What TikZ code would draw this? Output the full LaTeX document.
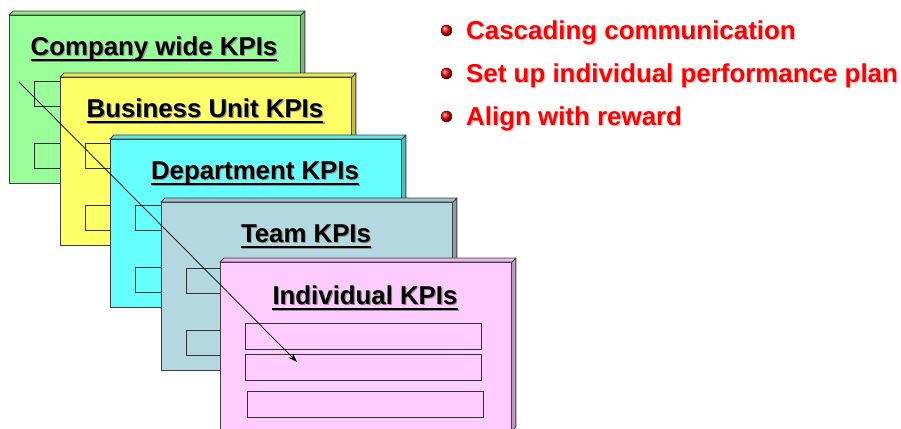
\documentclass[tikz,border=0pt]{standalone}
\usepackage{fontspec}
\setmainfont{Liberation Sans}
\usetikzlibrary{arrows.meta,shadings}
\definecolor{cgreen}{HTML}{99FF99}
\definecolor{cyellow}{HTML}{FFFF66}
\definecolor{ccyan}{HTML}{66FFFF}
\definecolor{cteam}{HTML}{B4D8E0}
\definecolor{cpink}{HTML}{FFCCFF}
\definecolor{cred}{HTML}{FF0000}
\definecolor{cshadow}{HTML}{909090}
\tikzset{
  card/.style={draw=black!75, line width=0.9pt, minimum width=291pt, minimum height=168pt, inner sep=0pt, anchor=north west},
  face/.style={draw=black!75, line width=0.9pt, line join=round},
  slot/.style={draw=black!80, line width=0.9pt, minimum width=236pt, minimum height=25pt, inner sep=0pt, anchor=north west},
  ttl/.style={anchor=base, inner sep=0pt, font=\fontsize{25.8}{30}\selectfont\bfseries},
  blt/.style={anchor=base west, inner sep=0pt, text=cred, font=\fontsize{25.9}{30}\selectfont\bfseries},
  bball/.style={circle, ball color=red!90!black, minimum size=11.5pt, inner sep=0pt},
}
\begin{document}
\begin{tikzpicture}[x=1pt,y=-1pt]
\useasboundingbox (0,0) rectangle (901,428);
\clip (0,0) rectangle (901,428);
\foreach \i/\x/\y/\col/\txt in {1/9/15/cgreen/Company wide KPIs, 2/60/77/cyellow/Business Unit KPIs, 3/110/139/ccyan/Department KPIs, 4/161/202/cteam/Team KPIs}{
  \node[card, fill=\col] (k\i) at (\x,\y) {};
  \fill[\col!75!black] (k\i.north east) -- ++(4,-4) -- ([shift={(4,-4)}]k\i.south east) -- (k\i.south east) -- cycle;
  \draw[face] (k\i.north east) -- ++(4,-4) -- ([shift={(4,-4)}]k\i.south east) -- (k\i.south east);
  \filldraw[face, fill=\col!90!black] (k\i.north west) -- ++(4,-4) -- ([shift={(4,-4)}]k\i.north east) -- (k\i.north east) -- cycle;
  \node[card, fill=\col] (k\i) at (\x,\y) {};
  \node[slot] (r\i a) at (\x+25,\y+66) {};
  \node[slot] (r\i b) at (\x+25,\y+128) {};
  \node[ttl, text=cshadow] (s\i) at (\x+145+1.1,\y+40.5+1.1) {\txt};
  \draw[cshadow, line width=2.4pt] ([yshift=-4.2pt]s\i.base west) -- ([yshift=-4.2pt]s\i.base east);
  \node[ttl] (t\i) at (\x+145,\y+40.5) {\txt};
  \draw[line width=2.4pt] ([yshift=-4.2pt]t\i.base west) -- ([yshift=-4.2pt]t\i.base east);
}
% individual card
\node[card, fill=cpink] (k5) at (220,262) {};
\fill[cpink!75!black] (k5.north east) -- ++(4,-4) -- ([shift={(4,-4)}]k5.south east) -- (k5.south east) -- cycle;
\draw[face] (k5.north east) -- ++(4,-4) -- ([shift={(4,-4)}]k5.south east) -- (k5.south east);
\filldraw[face, fill=cpink!90!black] (k5.north west) -- ++(4,-4) -- ([shift={(4,-4)}]k5.north east) -- (k5.north east) -- cycle;
\node[card, fill=cpink] at (220,262) {};
\node[slot, minimum height=26pt] (r5a) at (245,323) {};
\node[slot, minimum height=26pt] (r5b) at (245,354) {};
\node[slot, minimum height=26pt] (r5c) at (247,391) {};
\node[ttl, text=cshadow] (s5) at (365+1.1,304.5+1.1) {Individual KPIs};
\draw[cshadow, line width=2.4pt] ([yshift=-4.2pt]s5.base west) -- ([yshift=-4.2pt]s5.base east);
\node[ttl] (t5) at (365,304.5) {Individual KPIs};
\draw[line width=2.4pt] ([yshift=-4.2pt]t5.base west) -- ([yshift=-4.2pt]t5.base east);
% arrow
\coordinate (as) at (19,82);
\coordinate (ae) at (297,362);
\draw[line width=0.7pt, -{Stealth[length=9pt,width=6pt]}] (as) -- (ae);
% bullets
\foreach \j/\yy/\txt in {1/39.5/Cascading communication, 2/82.5/Set up individual performance plan, 3/125.5/Align with reward}{
  \node[bball] (b\j) at (446.5,\yy-9) {};
  \node[blt, text=red!25] (bs\j) at (467.2,\yy+1.2) {\txt};
  \node[blt] (bt\j) at (466,\yy) {\txt};
}
\end{tikzpicture}
\end{document}
